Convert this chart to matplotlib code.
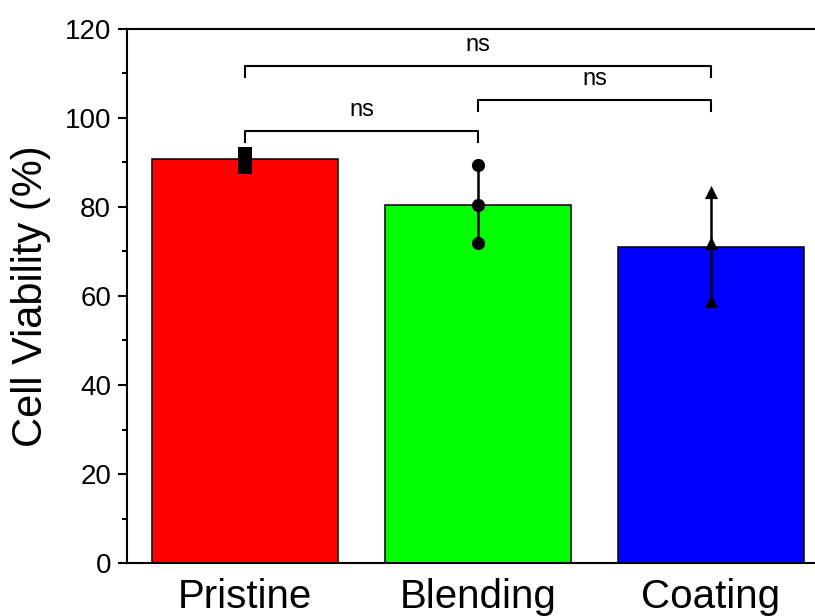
import numpy as np
import matplotlib
matplotlib.use("Agg")
import matplotlib.pyplot as plt
from matplotlib.ticker import MultipleLocator

plt.rcParams['font.family'] = ['Liberation Sans', 'DejaVu Sans']

# dados
grupos = ["Pristine", "Blending", "Coating"]
media = [90.7, 80.4, 71.1]
desvio = [1.5, 8.8, 12.2]
pontos = [
    [91.9, 90.6, 89.0],
    [89.4, 80.5, 71.8],
    [83.3, 71.8, 58.8],
]
marcadores = ["s", "o", "^"]
cores = ["#ff0000", "#00ff00", "#0000ff"]

# comparações (grupo i, grupo j, altura da barra, rótulo)
comparacoes = [
    (0, 2, 111.7, "ns"),
    (1, 2, 104.0, "ns"),
    (0, 1, 97.1, "ns"),
]

fig = plt.figure(figsize=(8.15, 6.16), dpi=100)
ax = fig.add_axes([0.156, 0.086, 1.017 - 0.156, 0.953 - 0.086])

x = np.arange(len(grupos))
ax.bar(x, media, width=0.8, color=cores, edgecolor="black", linewidth=1.1, zorder=2)
ax.errorbar(x, media, yerr=desvio, fmt="none", ecolor="black", elinewidth=1.8,
            capsize=0, zorder=3)

for i, vals in enumerate(pontos):
    ax.scatter([x[i]] * len(vals), vals, marker=marcadores[i], s=90,
               color="black", zorder=4, linewidths=0)

# brackets de significância
for i, j, h, txt in comparacoes:
    ax.plot([x[i], x[i], x[j], x[j]], [h - 2.4, h, h, h - 2.4],
            color="black", linewidth=1.5, zorder=3)
    ax.text((x[i] + x[j]) / 2, h + 2.2, txt, ha="center", va="bottom", fontsize=17)

ax.set_xlim(-0.506, 2.506)
ax.set_ylim(0, 120)
ax.yaxis.set_major_locator(MultipleLocator(20))
ax.yaxis.set_minor_locator(MultipleLocator(10))
ax.set_xticks(x)
ax.set_xticklabels(grupos, fontsize=29)
ax.tick_params(axis="x", length=0, pad=11)
ax.tick_params(axis="y", which="major", direction="out", length=6.5, width=1.5,
               labelsize=20, pad=5)
ax.tick_params(axis="y", which="minor", direction="out", length=3.8, width=1.5)

for s in ax.spines.values():
    s.set_linewidth(1.5)
ax.spines["right"].set_visible(False)

ax.set_ylabel("Cell Viability (%)", fontsize=30, labelpad=10)

plt.savefig("out.png", dpi=100)
